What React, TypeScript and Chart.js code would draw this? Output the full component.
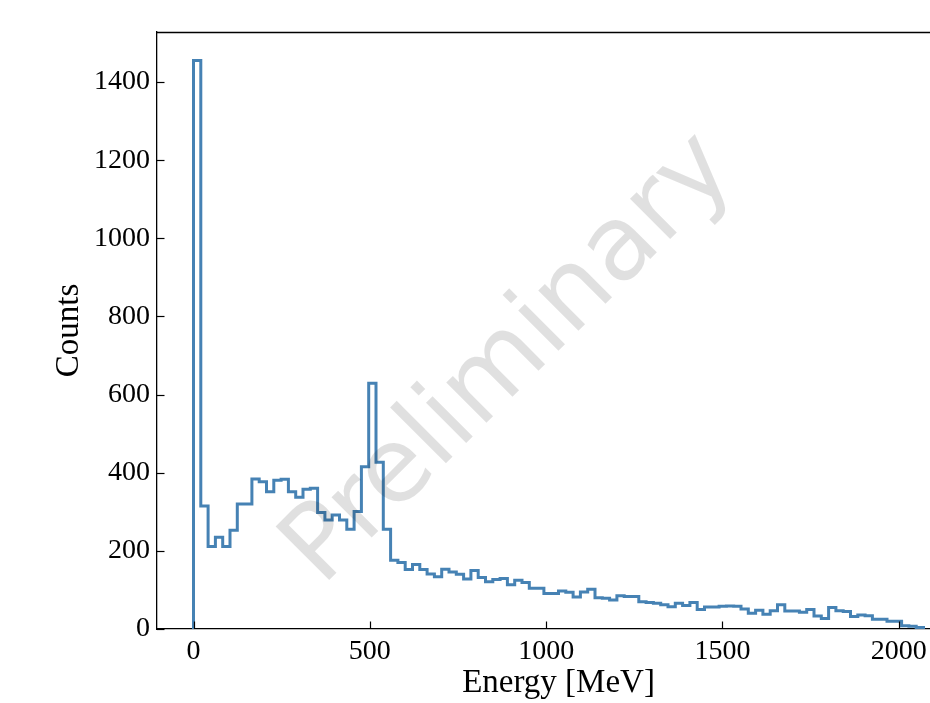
import React, { useEffect, useRef } from "react";
import { Chart, registerables } from "chart.js";

Chart.register(...registerables);

// Histogram: 100 bins starting at 0 MeV
const binStart = 0;
const binWidth = 20.7;
const counts = [
  1455, 315, 211, 235, 211, 253, 320, 320, 384, 377,
  351, 381, 383, 351, 337, 358, 360, 298, 279, 292,
  279, 255, 301, 415, 629, 427, 255, 176, 170, 152,
  165, 152, 141, 134, 153, 146, 140, 128, 150, 132,
  121, 127, 129, 113, 125, 119, 104, 104, 91, 91,
  97, 94, 82, 95, 102, 80, 79, 74, 85, 83,
  83, 70, 68, 66, 62, 57, 66, 60, 68, 50,
  56, 56, 58, 59, 58, 51, 40, 48, 38, 47,
  62, 46, 46, 43, 50, 33, 27, 55, 47, 45,
  32, 36, 34, 25, 25, 20, 20, 8, 7, 4,
];

const xTickValues = [0, 500, 1000, 1500, 2000];
const yTickValues = [0, 200, 400, 600, 800, 1000, 1200, 1400];
const xLabel = "Energy [MeV]";
const yLabel = "Counts";
const watermark = "Preliminary";

const X_MIN = -103.5;
const X_MAX = 2173.5;
const Y_MIN = 0;
const Y_MAX = 1528;

const SERIF = '"Liberation Serif", "Times New Roman", serif';

const framePlugin = {
  id: "frame",
  afterDraw(chart: any) {
    const { ctx, chartArea } = chart;
    const { left, right, top, bottom } = chartArea;
    ctx.save();
    ctx.strokeStyle = "#000";
    // top spine
    ctx.lineWidth = 1.3;
    ctx.beginPath();
    ctx.moveTo(left, Math.round(top) + 0.5);
    ctx.lineTo(right, Math.round(top) + 0.5);
    ctx.stroke();
    // inward ticks
    ctx.lineWidth = 1.2;
    const xs = chart.scales.x;
    const ys = chart.scales.y;
    xTickValues.forEach((v) => {
      const px = Math.round(xs.getPixelForValue(v)) + 0.5;
      ctx.beginPath();
      ctx.moveTo(px, bottom);
      ctx.lineTo(px, bottom - 7.5);
      ctx.stroke();
    });
    yTickValues.forEach((v) => {
      const py = Math.round(ys.getPixelForValue(v)) + 0.5;
      ctx.beginPath();
      ctx.moveTo(left, py);
      ctx.lineTo(left + 7.5, py);
      ctx.stroke();
    });
    // axis titles
    ctx.fillStyle = "#000";
    ctx.font = `33px ${SERIF}`;
    ctx.textAlign = "center";
    ctx.textBaseline = "alphabetic";
    ctx.fillText(xLabel, (left + right) / 2, 692);
    ctx.save();
    ctx.translate(78, (top + bottom) / 2);
    ctx.rotate(-Math.PI / 2);
    ctx.fillText(yLabel, 0, 0);
    ctx.restore();
    ctx.restore();
  },
};

const watermarkPlugin = {
  id: "watermark",
  afterDatasetsDraw(chart: any) {
    const { ctx, chartArea } = chart;
    ctx.save();
    ctx.beginPath();
    ctx.rect(chartArea.left, chartArea.top, chartArea.right - chartArea.left, chartArea.bottom - chartArea.top);
    ctx.clip();
    ctx.translate((chartArea.left + chartArea.right) / 2 - 48, (chartArea.top + chartArea.bottom) / 2 + 30);
    ctx.rotate(-Math.PI / 4);
    ctx.font = '104px "DejaVu Sans", sans-serif';
    ctx.fillStyle = "rgba(0,0,0,0.12)";
    ctx.textAlign = "center";
    ctx.textBaseline = "middle";
    ctx.fillText(watermark, 0, 0);
    ctx.restore();
  },
};

export default function App() {
  const canvasRef = useRef<HTMLCanvasElement | null>(null);

  useEffect(() => {
    if (!canvasRef.current) return;
    const points = [
      { x: binStart, y: 0 },
      ...counts.map((c, i) => ({ x: binStart + i * binWidth, y: c })),
      { x: binStart + counts.length * binWidth, y: 0 },
    ];
    const chart = new Chart(canvasRef.current, {
      type: "line",
      data: {
        datasets: [
          {
            data: points,
            borderColor: "#4682b4",
            borderWidth: 3,
            pointRadius: 0,
            fill: false,
            stepped: "before",
            borderJoinStyle: "miter",
          } as any,
        ],
      },
      options: {
        animation: false,
        responsive: false,
        devicePixelRatio: 1,
        layout: { padding: { left: 0, top: 32, right: 40, bottom: 0 } },
        plugins: {
          legend: { display: false },
          tooltip: { enabled: false },
        },
        scales: {
          x: {
            type: "linear",
            min: X_MIN,
            max: X_MAX,
            grid: { display: false, drawTicks: false, tickLength: 0 },
            border: { display: true, color: "#000", width: 1.3 },
            afterBuildTicks: (s: any) => {
              s.ticks = xTickValues.map((value) => ({ value }));
            },
            afterFit: (s: any) => {
              s.height = 74;
            },
            ticks: {
              color: "#000",
              font: { family: SERIF, size: 28 },
              padding: 6,
              maxRotation: 0,
              autoSkip: false,
              callback: (v: any) => String(v),
            },
          },
          y: {
            type: "linear",
            min: Y_MIN,
            max: Y_MAX,
            grid: { display: false, drawTicks: false, tickLength: 0 },
            border: { display: true, color: "#000", width: 1.3 },
            afterBuildTicks: (s: any) => {
              s.ticks = yTickValues.map((value) => ({ value }));
            },
            afterFit: (s: any) => {
              s.width = 157;
            },
            ticks: {
              color: "#000",
              font: { family: SERIF, size: 28 },
              padding: 7,
              autoSkip: false,
              callback: (v: any) => String(v),
            },
          },
        },
      },
      plugins: [watermarkPlugin, framePlugin],
    });
    return () => chart.destroy();
  }, []);

  return (
    <div
      style={{
        position: "absolute",
        left: 0,
        top: 0,
        width: 930,
        height: 703,
        overflow: "hidden",
        background: "#fff",
      }}
    >
      <canvas ref={canvasRef} width={1000} height={703} style={{ display: "block", width: 1000, height: 703 }} />
    </div>
  );
}
